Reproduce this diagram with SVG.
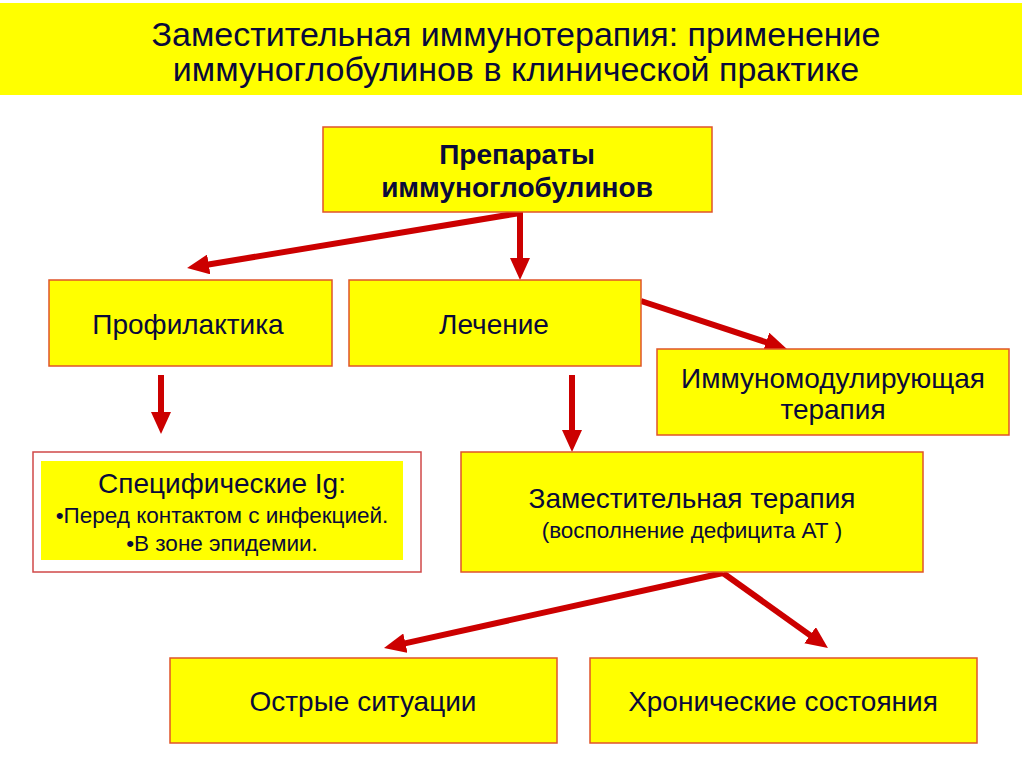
<svg xmlns="http://www.w3.org/2000/svg" width="1024" height="767" viewBox="0 0 1024 767">
<style>
.box{fill:#ffff00;stroke:#e0542a;stroke-width:1.5}
.t{font-family:"Liberation Sans",Arial,sans-serif;fill:#0a0a3a;text-anchor:middle}
.n{font-size:28px}
.s{font-size:22.5px}
.conn line{stroke:#cc0000;stroke-width:6;marker-end:url(#ah)}
</style>
<defs>
<marker id="ah" markerUnits="userSpaceOnUse" viewBox="0 0 22 20" markerWidth="22" markerHeight="20" refX="11" refY="10" orient="auto">
<path d="M0,0 L22,10 L0,20 z" fill="#cc0000"/>
</marker>
</defs>
<rect x="0" y="0" width="1024" height="767" fill="#ffffff"/>
<g id="header">
<rect x="0" y="3" width="1022" height="92" fill="#ffff00"/>
<text class="t" x="516" y="46" font-size="34">Заместительная иммунотерапия: применение</text>
<text class="t" x="516" y="81" font-size="34">иммуноглобулинов в клинической практике</text>
</g>
<g class="conn" id="connectors">
<line x1="520" y1="213" x2="197.9" y2="266.2"/>
<line x1="520" y1="211" x2="520" y2="269"/>
<line x1="641" y1="301" x2="776.5" y2="345.6"/>
<line x1="161" y1="375" x2="161" y2="423"/>
<line x1="572" y1="375" x2="572" y2="441"/>
<line x1="723" y1="573" x2="394.7" y2="645.6"/>
<line x1="723" y1="573" x2="819" y2="641.6"/>
</g>
<g id="preparaty">
<rect class="box" x="323" y="127" width="389" height="85"/>
<text class="t n" x="517" y="164" font-weight="bold">Препараты</text>
<text class="t n" x="517" y="197" font-weight="bold">иммуноглобулинов</text>
</g>
<g id="profilaktika">
<rect class="box" x="49" y="280" width="283" height="86"/>
<text class="t n" x="188" y="334">Профилактика</text>
</g>
<g id="lechenie">
<rect class="box" x="349" y="280" width="292" height="86"/>
<text class="t n" x="494" y="334">Лечение</text>
</g>
<g id="immunomod">
<rect class="box" x="657" y="349" width="352" height="86"/>
<text class="t n" x="833" y="388">Иммуномодулирующая</text>
<text class="t n" x="833" y="419">терапия</text>
</g>
<g id="specific">
<rect x="33" y="452" width="388" height="120" fill="#ffffff" stroke="#d04848" stroke-width="1.5"/>
<rect x="41" y="461" width="362" height="99" fill="#ffff00"/>
<text class="t n" x="222" y="493">Специфические Ig:</text>
<text class="t s" x="222" y="523">•Перед контактом с инфекцией.</text>
<text class="t s" x="222" y="551">•В зоне эпидемии.</text>
</g>
<g id="zamest">
<rect class="box" x="461" y="452" width="462" height="120"/>
<text class="t n" x="692" y="508">Заместительная терапия</text>
<text class="t s" x="692" y="538">(восполнение дефицита АТ )</text>
</g>
<g id="ostrye">
<rect class="box" x="170" y="658" width="387" height="85"/>
<text class="t n" x="363" y="711">Острые ситуации</text>
</g>
<g id="khron">
<rect class="box" x="590" y="658" width="387" height="85"/>
<text class="t n" x="783" y="711">Хронические состояния</text>
</g>
</svg>
